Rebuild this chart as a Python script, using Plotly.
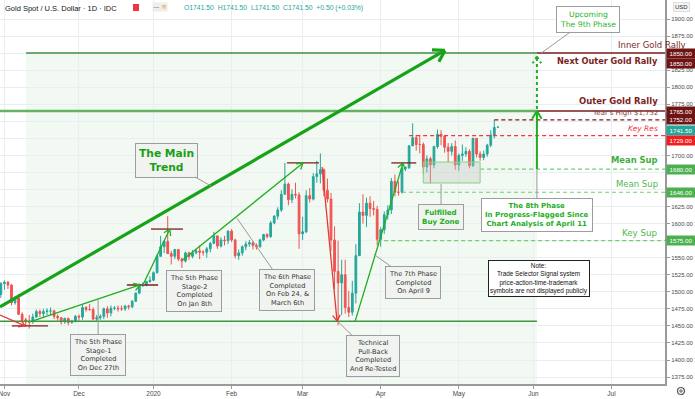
import math
import pandas as pd
import plotly.graph_objects as go

# ---------------- data ----------------
HOLIDAYS = ["2019-12-25", "2020-01-01"]
CAL = [d.strftime("%Y-%m-%d") for d in pd.bdate_range("2019-10-31", "2020-07-31")
       if d.strftime("%Y-%m-%d") not in HOLIDAYS]
POS = {d: i for i, d in enumerate(CAL)}

open_ = [1496,
         1512, 1514, 1510, 1484, 1491, 1467, 1459, 1456, 1456, 1463, 1471, 1468, 1471, 1472, 1472, 1464, 1462, 1456, 1461, 1455, 1457,
         1464, 1463, 1477, 1474, 1474, 1460, 1462, 1464, 1475, 1469, 1476, 1476, 1475, 1475, 1479, 1478, 1486, 1498, 1511, 1511, 1515,
         1517, 1528, 1552, 1566, 1574, 1556, 1552, 1562, 1548, 1545, 1557, 1552, 1557, 1560, 1558, 1558, 1563, 1571, 1582, 1567, 1576, 1575,
         1589, 1576, 1553, 1557, 1566, 1570, 1572, 1568, 1566, 1576, 1584, 1581, 1601, 1611, 1620, 1643, 1658, 1635, 1643, 1642,
         1585, 1588, 1641, 1636, 1669, 1673, 1679, 1649, 1636, 1576, 1530, 1513, 1525, 1477, 1470, 1498, 1553, 1617, 1612, 1630, 1622, 1621,
         1577, 1591, 1613, 1620, 1662, 1646, 1646, 1681, 1682, 1714, 1726, 1716, 1716, 1683, 1695, 1686, 1713, 1731, 1728, 1712, 1706, 1713,
         1686, 1700, 1702, 1706, 1685, 1725, 1702, 1697, 1702, 1715, 1730, 1741.5]
high_ = [1514,
         1517, 1516, 1511, 1494, 1497, 1470, 1462, 1466, 1468, 1474, 1474, 1475, 1476, 1477, 1474, 1467, 1463, 1462, 1462, 1459, 1466,
         1467, 1481, 1479, 1482, 1477, 1466, 1467, 1477, 1479, 1480, 1479, 1480, 1480, 1481, 1481, 1488, 1499, 1512, 1514, 1516, 1523,
         1530, 1555, 1582, 1575, 1611, 1560, 1563, 1563, 1550, 1559, 1559, 1561, 1563, 1568, 1561, 1566, 1573, 1588, 1583, 1580, 1582, 1590,
         1592, 1578, 1562, 1568, 1574, 1576, 1574, 1571, 1578, 1585, 1586, 1604, 1612, 1624, 1649, 1689, 1660, 1650, 1660, 1646,
         1610, 1649, 1652, 1674, 1692, 1703, 1681, 1666, 1645, 1596, 1575, 1547, 1547, 1501, 1516, 1570, 1630, 1643, 1638, 1640, 1633, 1626,
         1595, 1618, 1627, 1667, 1672, 1662, 1690, 1684, 1715, 1747, 1730, 1730, 1719, 1700, 1698, 1714, 1738, 1737, 1730, 1718, 1718, 1722,
         1703, 1716, 1712, 1709, 1726, 1723, 1706, 1707, 1717, 1737, 1752, 1741.5]
low_ = [1491,
        1503, 1504, 1480, 1481, 1466, 1456, 1449, 1446, 1453, 1462, 1463, 1462, 1466, 1466, 1460, 1458, 1452, 1453, 1451, 1453, 1455,
        1456, 1459, 1471, 1472, 1458, 1457, 1459, 1460, 1462, 1464, 1473, 1471, 1472, 1472, 1474, 1476, 1485, 1497, 1507, 1508, 1513,
        1516, 1527, 1552, 1557, 1556, 1540, 1548, 1545, 1535, 1543, 1547, 1549, 1555, 1548, 1553, 1550, 1558, 1570, 1563, 1565, 1568, 1570,
        1573, 1549, 1547, 1553, 1561, 1566, 1562, 1562, 1565, 1574, 1578, 1579, 1599, 1606, 1617, 1643, 1627, 1630, 1637, 1563,
        1576, 1586, 1631, 1634, 1660, 1659, 1640, 1631, 1560, 1504, 1451, 1466, 1468, 1463, 1465, 1483, 1553, 1600, 1595, 1610, 1612, 1568,
        1566, 1585, 1606, 1614, 1640, 1641, 1644, 1677, 1680, 1714, 1707, 1703, 1672, 1675, 1659, 1681, 1710, 1715, 1704, 1690, 1700, 1679,
        1677, 1692, 1698, 1681, 1683, 1697, 1692, 1693, 1698, 1712, 1725, 1741.5]
close_ = [1512,
          1514, 1510, 1484, 1491, 1467, 1459, 1456, 1456, 1463, 1471, 1468, 1471, 1472, 1472, 1464, 1462, 1456, 1461, 1455, 1457, 1464,
          1463, 1477, 1474, 1474, 1460, 1462, 1464, 1475, 1469, 1476, 1476, 1475, 1475, 1479, 1478, 1486, 1498, 1511, 1511, 1515, 1517,
          1528, 1552, 1566, 1574, 1556, 1552, 1562, 1548, 1545, 1557, 1552, 1557, 1560, 1558, 1558, 1563, 1571, 1582, 1567, 1576, 1575, 1589,
          1576, 1553, 1557, 1566, 1570, 1572, 1568, 1566, 1576, 1584, 1581, 1601, 1611, 1620, 1643, 1658, 1635, 1643, 1642, 1585,
          1588, 1641, 1636, 1669, 1673, 1679, 1649, 1636, 1576, 1530, 1513, 1525, 1477, 1470, 1498, 1553, 1617, 1612, 1630, 1622, 1621, 1577,
          1591, 1613, 1620, 1662, 1646, 1646, 1681, 1682, 1714, 1726, 1716, 1716, 1683, 1695, 1686, 1713, 1731, 1728, 1712, 1706, 1713, 1686,
          1700, 1702, 1706, 1685, 1725, 1702, 1697, 1702, 1715, 1730, 1741, 1741.5]

dates = CAL[:len(open_)]
assert dates[-1] == "2020-05-18"

month_ticks = ["2019-11-01", "2019-12-02", "2020-01-02", "2020-02-03", "2020-03-02",
               "2020-04-01", "2020-05-01", "2020-06-01", "2020-07-01"]
month_labels = ["Nov", "Dec", "2020", "Feb", "Mar", "Apr", "May", "Jun", "Jul"]
price_ticks = list(range(1375, 1901, 25))
shown_ticks = [p for p in price_ticks if p not in (1850, 1750, 1725, 1675, 1650, 1575)]

levels = dict(next_outer=1850, outer=1765, year_high=1752, last=1741.5, key_res=1729,
              mean_sup1=1680, mean_sup2=1646, key_sup=1575, base=1457)


def X(d, off=0.0):
    return POS[d] + off


# ---------------- geometry ----------------
W, H = 695, 399
ML, MR, MT, MB = 0, 30, 0, 15
PW, PH = W - ML - MR, H - MT - MB
XMIN = X("2019-11-01") - 1.24
XMAX = X("2019-11-01") + 186.08
YMIN, YMAX = 1364.8, 1927.9
SX = PW / (XMAX - XMIN)
SY = PH / (YMAX - YMIN)

UP, DN = "#26a69a", "#ef5350"
GREEN = "#1fae1f"
TREND = "#17a317"
MAROON = "#7b1e1e"
LGREEN = "#6fcf6f"
RED = "#f23645"

fig = go.Figure()
fig.add_trace(go.Candlestick(
    x=[X(d) for d in dates], open=open_, high=high_, low=low_, close=close_,
    increasing=dict(line=dict(color=UP, width=1), fillcolor=UP),
    decreasing=dict(line=dict(color=DN, width=1), fillcolor=DN),
    whiskerwidth=0, showlegend=False, hoverinfo="skip"))


def seg(x0, y0, x1, y1, color, width=1.3, dash="solid", layer="above"):
    fig.add_shape(type="line", xref="x", yref="y", x0=x0, y0=y0, x1=x1, y1=y1,
                  line=dict(color=color, width=width, dash=dash), layer=layer)


def arrow(x0, y0, x1, y1, color, width=1.3, head=7, dash="solid", ang=32):
    seg(x0, y0, x1, y1, color, width, dash)
    dx, dy = (x1 - x0) * SX, (y1 - y0) * SY
    ln = math.hypot(dx, dy)
    ux, uy = -dx / ln, -dy / ln
    for s in (1, -1):
        a = math.radians(ang) * s
        rx = ux * math.cos(a) - uy * math.sin(a)
        ry = ux * math.sin(a) + uy * math.cos(a)
        seg(x1, y1, x1 + rx * head / SX, y1 + ry * head / SY, color, width, dash)


# shaded zone
RX0, RX1 = X("2019-11-11", 0.1), X("2020-06-02")
fig.add_shape(type="rect", xref="x", yref="y", x0=RX0, x1=RX1, y0=YMIN - 20, y1=levels["next_outer"],
              fillcolor="rgba(40,140,40,0.06)", line=dict(width=0), layer="below")
seg(RX0, 1850, RX1, 1850, "#3f8f3f", 1.5)
seg(RX1, 1850, XMAX, 1850, MAROON, 1.5)
seg(XMIN, 1765, RX1, 1765, "#63b363", 2.5)
seg(RX1, 1765, XMAX, 1765, MAROON, 1.5)
seg(XMIN, levels["base"], RX1, levels["base"], "#3c9a3c", 1.5)

# dashed levels
seg(X("2020-05-15"), 1752, XMAX, 1752, MAROON, 1.2, "4px,3px")
seg(X("2020-04-13"), 1729, XMAX, 1729, RED, 1.2, "4px,3px")
seg(X("2020-05-11"), 1680, XMAX, 1680, LGREEN, 1.2, "4px,3px")
seg(X("2020-04-09"), 1646, XMAX, 1646, LGREEN, 1.2, "4px,3px")
seg(X("2020-03-31"), 1575, XMAX, 1575, LGREEN, 1.2, "4px,3px")

# buy zone
fig.add_shape(type="rect", xref="x", yref="y", x0=X("2020-04-17"), x1=X("2020-05-11"),
              y0=1659.5, y1=1690.3, fillcolor="rgba(190,195,190,0.35)",
              line=dict(color="#86d486", width=1), layer="above")

# maroon markers
seg(X("2019-11-05", 0.1), 1450, X("2019-11-19", 0.3), 1450, MAROON)
seg(X("2019-12-19", 0.5), 1510, X("2020-01-03", 0.3), 1510, MAROON)
seg(X("2019-12-31", 0.3), 1592, X("2020-01-14", 0.3), 1592, MAROON)
seg(X("2020-02-24", 0.6), 1689, X("2020-03-06", 0.6), 1689, MAROON)
seg(X("2020-04-06"), 1689, X("2020-04-15"), 1689, MAROON)

# arrows
arrow(XMIN, 1478, X("2020-04-27", 0.1), 1854, TREND, 3.2, 13)
arrow(XMIN, 1466, X("2019-11-08", 0.8), 1450, "#e53935", 1.3, 7)
arrow(X("2019-11-12", 0.2), 1456, X("2019-12-26", 0.2), 1510, GREEN)
arrow(X("2019-12-27"), 1510, X("2020-01-08", 0.6), 1592, GREEN)
arrow(X("2020-01-14", 0.3), 1547, X("2020-03-02", 0.1), 1689, GREEN)
arrow(X("2020-03-09", 0.5), 1683, X("2020-03-13", 0.7), 1457, "#e53935")
arrow(X("2020-03-20", 0.8), 1457, X("2020-04-09", 0.3), 1689, GREEN)
arrow(RX1, 1680, RX1, 1765, GREEN, 2, 9)
arrow(RX1, 1768, RX1, 1845, GREEN, 2, 8, dash="dot")

# ---------------- annotations ----------------
ann = []


def callout(x, y, ax, ay, text, color="#333333", size=6.6, bold=False, bg="rgba(240,242,240,0.92)"):
    t = f"<b>{text}</b>" if bold else text
    ann.append(dict(x=x, y=y, xref="x", yref="y", ax=ax, ay=ay, text=t, showarrow=True,
                    arrowhead=0, arrowwidth=1, arrowcolor="#999999", standoff=0,
                    font=dict(family="DejaVu Sans", size=size, color=color),
                    bgcolor=bg, bordercolor="#9d9d9d", borderwidth=1, borderpad=3, align="center"))


callout(X("2020-01-24", 0.2), 1655, -45, -26, "The Main<br>Trend", "#16a016", 10.7, True)
callout(X("2019-12-09", 0.4), 1491, 0, 57, "The 5th Phase<br>Stage-1<br>Completed<br>On Dec 27th")
callout(X("2020-01-02", 0.7), 1547, 38, 31, "The 5th Phase<br>Stage-2<br>Completed<br>On Jan 8th")
callout(X("2020-02-04", 0.5), 1608, 50, 72, "The 6th Phase<br>Completed<br>On Feb 24, &amp;<br>March 6th")
callout(X("2020-03-16"), 1456, 35, 34, "Technical<br>Pull-Back<br>Completed<br>And Re-Tested")
callout(X("2020-03-30", 0.1), 1555, 39, 28, "The 7th Phase<br>Completed<br>On April 9")
callout(X("2020-04-24"), 1658, 0, 33, "Fulfilled<br>Buy Zone", "#1fae1f", 7.1, True)
callout(X("2020-06-02"), 1679, 0, 45,
        "The 8th Phase<br>In Progress-Flagged Since<br>Chart Analysis of April 11", "#1fae1f", 7.0, True,
        bg="rgba(255,255,255,0.92)")
callout(X("2020-06-03", 0.2), 1850, 47, -34, "Upcoming<br>The 9th Phase", "#2ab52a", 7.7,
        bg="rgba(255,255,255,0.95)")

ann.append(dict(x=X("2020-06-02", 0.6), y=1519, xref="x", yref="y", showarrow=False,
                text="Note:<br>Trade Selector Signal system<br>price-action-time-trademark<br>symbols are not displayed publicly",
                font=dict(family="Liberation Sans", size=6.4, color="#111111"),
                bgcolor="white", bordercolor="#222222", borderwidth=1, borderpad=1, align="center"))


def side_label(text, price, anchor, shift, color, size, bold=False, italic=False, xr=660):
    t = text
    if bold:
        t = f"<b>{t}</b>"
    if italic:
        t = f"<i>{t}</i>"
    ann.append(dict(x=xr / PW, y=price, xref="paper", yref="y", xanchor="right", yanchor=anchor,
                    yshift=shift, text=t, showarrow=False,
                    font=dict(family="DejaVu Sans", size=size, color=color)))


side_label("Inner Gold Rally", 1850, "bottom", 1, "#7b2a2a", 8.5, xr=688)
side_label("Next Outer Gold Rally", 1850, "top", -1, MAROON, 8.2, True)
side_label("Outer Gold Rally", 1765, "bottom", 3, MAROON, 8.5, True)
side_label("Year's High $1,752", 1752, "bottom", 1, "#8a3a3a", 7.0)
side_label("Key Res", 1729, "bottom", 1, RED, 7.5, italic=True)
side_label("Mean Sup", 1680, "bottom", 2, "#3fae3f", 8.4, True)
side_label("Mean Sup", 1646, "bottom", 1, "#4fb84f", 8.5)
side_label("Key Sup", 1575, "bottom", 1, "#4fb84f", 8.7)


def price_box(price, bg, shift=0, text=None):
    ann.append(dict(x=1.0, y=price, xref="paper", yref="y", xanchor="left", yanchor="middle",
                    xshift=1, yshift=shift, text=text or f"{price:.2f}", showarrow=False,
                    width=28, height=9, bgcolor=bg, borderpad=0,
                    font=dict(family="Liberation Sans", size=6.2, color="white")))


price_box(1850, "#6e1414", 0)
price_box(1850, "#6e1414", -10)
price_box(1765, "#6e1414", 0)
price_box(1752, "#6e1414", 0)
price_box(1741.5, "#26a69a", -3.5)
price_box(1729, "#f01e1e", -4.5)
price_box(1680, "#4caf50", 0)
price_box(1646, "#4caf50", 0)
price_box(1575, "#4caf50", 0)

# header
ann.append(dict(x=3 / PW, y=1, xref="paper", yref="paper", xanchor="left", yanchor="top", yshift=-2,
                text="Gold Spot / U.S. Dollar · 1D · IDC", showarrow=False,
                font=dict(family="Liberation Sans", size=7.5, color="#131722")))
ann.append(dict(x=152 / PW, y=1, xref="paper", yref="paper", xanchor="left", yanchor="top", yshift=-2,
                text="<span style='color:#777'>—</span> <span style='color:#f7931a'>≋</span>",
                showarrow=False, bgcolor="#eeeeee", borderpad=0,
                font=dict(family="DejaVu Sans", size=6.5, color="#777")))
ann.append(dict(x=182 / PW, y=1, xref="paper", yref="paper", xanchor="left", yanchor="top", yshift=-2,
                text="O1741.50  H1741.50  L1741.50  C1741.50  +0.50 (+0.03%)", showarrow=False,
                font=dict(family="Liberation Sans", size=6.8, color="#26a69a")))
ann.append(dict(x=681 / PW, y=1, xref="paper", yref="paper", xanchor="center", yanchor="top", yshift=-2,
                text="USD", showarrow=False, bgcolor="#f4f4f4", bordercolor="#dddddd", borderwidth=1,
                borderpad=1, font=dict(family="Liberation Sans", size=6, color="#333")))
fig.add_shape(type="rect", xref="paper", yref="paper", x0=133 / PW, x1=139 / PW,
              y0=1 - 11 / PH, y1=1 - 4 / PH, fillcolor="#f23645", line=dict(width=0))
# settings gear (bottom-right corner)
fig.add_shape(type="circle", xref="paper", yref="paper", x0=677.5 / PW, x1=684.5 / PW,
              y0=-(394.5 - PH) / PH, y1=-(387.5 - PH) / PH,
              line=dict(color="#555", width=1.2), fillcolor="white")
fig.add_shape(type="circle", xref="paper", yref="paper", x0=679.8 / PW, x1=682.2 / PW,
              y0=-(392.2 - PH) / PH, y1=-(389.8 - PH) / PH,
              line=dict(color="#555", width=1), fillcolor="white")

fig.update_layout(
    width=W, height=H, margin=dict(l=ML, r=MR, t=MT, b=MB),
    paper_bgcolor="white", plot_bgcolor="white", showlegend=False, hovermode=False,
    annotations=ann, font=dict(family="DejaVu Sans"),
    xaxis=dict(range=[XMIN, XMAX], rangeslider=dict(visible=False), automargin=False,
               tickvals=[X(d) for d in month_ticks], ticktext=month_labels,
               ticklabeloverflow="allow",
               showgrid=True, gridcolor="#e8eef2", gridwidth=1, zeroline=False,
               showline=True, linecolor="#9a9a9a", linewidth=1.5,
               ticks="outside", ticklen=3, tickcolor="#9a9a9a",
               tickfont=dict(family="Liberation Sans", size=6.5, color="#4a4a4a")),
    yaxis=dict(range=[YMIN, YMAX], side="right", automargin=False,
               tickvals=shown_ticks, ticktext=[f"{p:.2f}" for p in shown_ticks],
               ticklabeloverflow="allow",
               showgrid=True, gridcolor="#e8eef2", gridwidth=1, zeroline=False,
               minor=dict(tickvals=price_ticks, showgrid=True, gridcolor="#e8eef2", ticks=""),
               showline=True, linecolor="#9a9a9a", linewidth=2,
               ticks="outside", ticklen=3, tickcolor="#9a9a9a",
               tickfont=dict(family="Liberation Sans", size=6, color="#4a4a4a")),
)

fig.write_html("out.html", config={"displayModeBar": False, "staticPlot": True},
               post_script="document.body.style.margin='0px';document.body.style.overflow='hidden';")
